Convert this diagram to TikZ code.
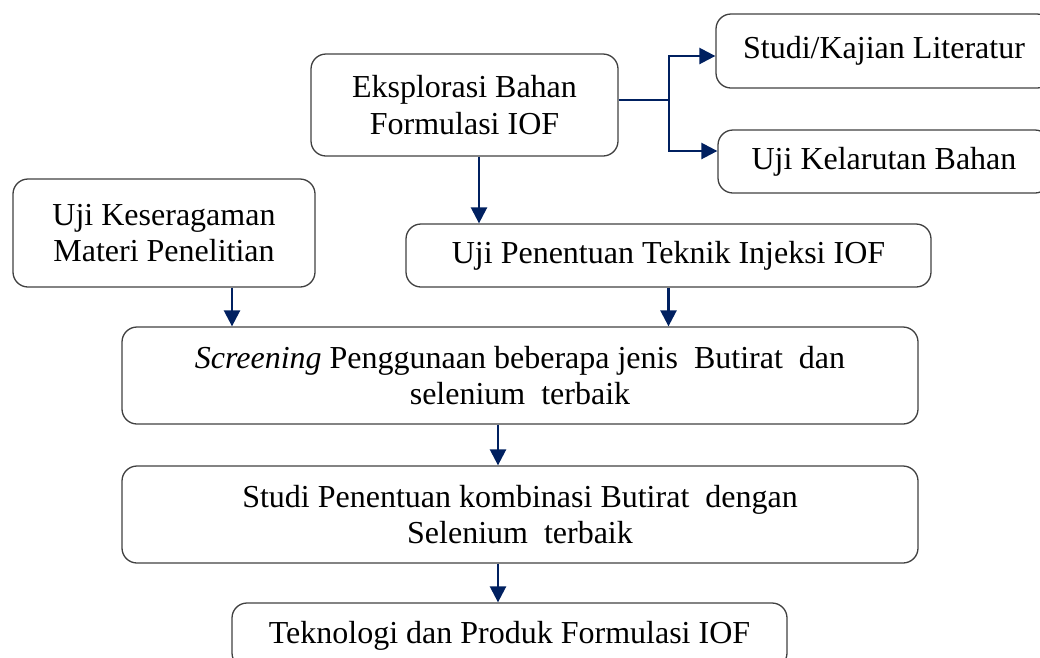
\documentclass[tikz,border=0pt]{standalone}
\usepackage{fontspec}
\setmainfont{Liberation Serif}
\usetikzlibrary{arrows.meta}
\definecolor{navy}{HTML}{002060}
\definecolor{bord}{HTML}{404040}
\begin{document}
\begin{tikzpicture}[x=1pt,y=-1pt,
 box/.style={draw=bord,line width=1.3pt,rounded corners=15pt,align=center,
   font=\fontsize{32}{36.5}\selectfont,inner sep=0pt},
 arr/.style={draw=navy,line width=2.5pt,-{Triangle[length=16pt,width=16pt]}},
 ln/.style={draw=navy,line width=2.5pt}]
\useasboundingbox (0,0) rectangle (1040,657);
\begin{scope}
\clip (0,0) rectangle (1040,657);
\node[box,minimum width=307pt,minimum height=102pt] (eks) at (464.5,105) {Eksplorasi Bahan\\Formulasi IOF};
\node[box,minimum width=336pt,minimum height=74pt] (lit) at (884,51) {Studi/Kajian Literatur};
\node[box,minimum width=332pt,minimum height=63pt] (kel) at (884,161.5) {Uji Kelarutan Bahan};
\node[box,minimum width=302pt,minimum height=108pt] (kes) at (164,233) {Uji Keseragaman\\Materi Penelitian};
\node[box,minimum width=525pt,minimum height=63pt] (tek) at (668.5,255.5) {Uji Penentuan Teknik Injeksi IOF};
\node[box,minimum width=796pt,minimum height=97pt] (scr) at (520,375.5) {\textit{Screening} Penggunaan beberapa jenis\ \ Butirat\ \ dan\\selenium\ \ terbaik};
\node[box,minimum width=796pt,minimum height=97pt] (stu) at (520,514.5) {Studi Penentuan kombinasi Butirat\ \ dengan\\Selenium\ \ terbaik};
\node[box,minimum width=555pt,minimum height=65pt] (pro) at (509.5,635.5) {Teknologi dan Produk Formulasi IOF};
\coordinate (br) at (669,100);
\draw[ln] ([yshift=5pt]eks.east) -- (br);
\draw[arr] (br) |- ([yshift=-5pt]lit.west);
\draw[arr] (br) |- ([yshift=10.5pt]kel.west);
\draw[arr] ([xshift=14.5pt]eks.south) -- ([xshift=14.5pt]eks.south |- tek.north);
\draw[arr] ([xshift=68pt]kes.south) -- ([xshift=68pt]kes.south |- scr.north);
\draw[arr] (tek.south) -- (tek.south |- scr.north);
\draw[arr] ([xshift=-22pt]scr.south) -- ([xshift=-22pt]scr.south |- stu.north);
\draw[arr] ([xshift=-22pt]stu.south) -- ([xshift=-22pt]stu.south |- pro.north);
\end{scope}
\end{tikzpicture}
\end{document}
